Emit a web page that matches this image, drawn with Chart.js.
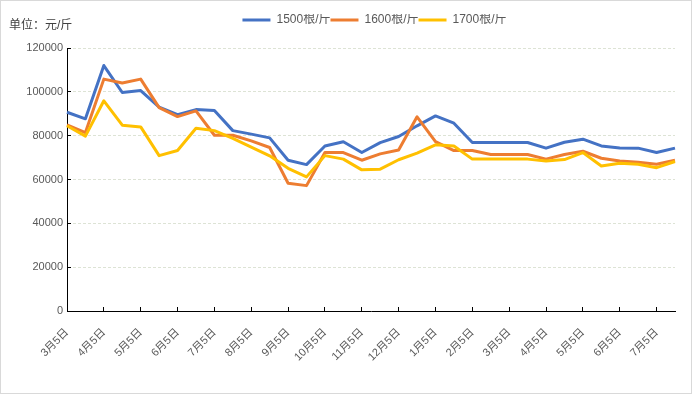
<!DOCTYPE html>
<html>
<head>
<meta charset="utf-8">
<script src="https://cdn.jsdelivr.net/npm/chart.js@4.4.0/dist/chart.umd.min.js"></script>
<style>
  html, body { margin: 0; padding: 0; background: #fff; }
  #wrap { width: 692px; height: 394px; }
</style>
</head>
<body>
<div id="wrap"><canvas id="priceChart" width="692" height="394"></canvas></div>
<script>
// categories: every half month, only the 5th gets a label
var dates = ['3月5日', '3月20日', '4月5日', '4月20日', '5月5日', '5月20日', '6月5日', '6月20日',
    '7月5日', '7月20日', '8月5日', '8月20日', '9月5日', '9月20日', '10月5日', '10月20日',
    '11月5日', '11月20日', '12月5日', '12月20日', '1月5日', '1月20日', '2月5日', '2月20日',
    '3月5日', '3月20日', '4月5日', '4月20日', '5月5日', '5月20日', '6月5日', '6月20日',
    '7月5日', '7月20日'];

var price1500 = [90700, 87700, 112000, 99700, 100600, 93000, 89600, 91900, 91500, 82300,
    80700, 79000, 68800, 66800, 75300, 77200, 72300, 76800, 79600, 84500,
    89000, 85700, 76900, 76900, 76900, 76900, 74300, 77000, 78400, 75300,
    74400, 74300, 72300, 74300];

var price1600 = [84900, 81400, 105800, 104000, 105800, 92800, 88700, 91300, 80200, 80200,
    77600, 74600, 58300, 57200, 72300, 72300, 68800, 71700, 73500, 88600,
    77300, 73200, 73200, 71400, 71400, 71400, 69300, 71400, 72900, 69700,
    68400, 67900, 67000, 68800];

var price1700 = [84500, 79800, 95900, 84800, 84000, 70900, 73200, 83400, 82300, 78800,
    74800, 70800, 65100, 61200, 70900, 69300, 64400, 64700, 69000, 72000,
    75800, 75300, 69300, 69300, 69300, 69300, 68400, 69100, 72300, 66200,
    67400, 67000, 65400, 68200];

var seriesNames = ['1500根/斤', '1600根/斤', '1700根/斤'];
var yTicks = { min: 0, max: 120000, step: 20000 };
var unitText = '单位：元/斤';

var fontFamily = '"Liberation Sans", "Noto Sans CJK SC", sans-serif';
var textGray = '#595959';

function lineSet(name, data, color, order) {
    return {
        label: name,
        data: data,
        borderColor: color,
        backgroundColor: color,
        borderWidth: 3,
        borderJoinStyle: 'round',
        borderCapStyle: 'butt',
        pointRadius: 0,
        tension: 0,
        fill: false,
        order: order
    };
}

// white page + light frame, unit text in the corner
var framePlugin = {
    id: 'frame',
    beforeDraw: function(chart) {
        var c = chart.ctx;
        c.save();
        c.fillStyle = '#fff';
        c.fillRect(0, 0, chart.width, chart.height);
        c.strokeStyle = '#d9d9d9';
        c.lineWidth = 1;
        c.strokeRect(0.5, 0.5, chart.width - 1, chart.height - 1);
        c.restore();
    },
    afterDraw: function(chart) {
        var c = chart.ctx;
        c.save();
        c.font = '12px ' + fontFamily;
        c.fillStyle = '#404040';
        c.textBaseline = 'middle';
        c.fillText(unitText, 9, 26);
        c.restore();
    }
};

// fix legend height so the plot starts where the original does,
// and nudge the legend to the right like in the original
var legendBox = {
    id: 'legendBox',
    beforeInit: function(chart) {
        var fit = chart.legend.fit;
        chart.legend.fit = function() {
            fit.call(this);
            this.height = 34;
        };
    },
    afterLayout: function(chart) {
        chart.legend.left = 74;
        chart.legend.right = 675;
    }
};

var ctx = document.getElementById('priceChart').getContext('2d');
var priceChart = new Chart(ctx, {
    type: 'line',
    data: {
        labels: dates,
        datasets: [
            lineSet(seriesNames[0], price1500, '#4472C4', 3),
            lineSet(seriesNames[1], price1600, '#ED7D31', 2),
            lineSet(seriesNames[2], price1700, '#FFC000', 1)
        ]
    },
    options: {
        responsive: false,
        animation: false,
        devicePixelRatio: 1,
        layout: { padding: { top: 14, right: 17, left: 0, bottom: 0 } },
        plugins: {
            legend: {
                position: 'top',
                align: 'center',
                labels: {
                    usePointStyle: true,
                    pointStyle: 'line',
                    pointStyleWidth: 28,
                    boxWidth: 28,
                    boxHeight: 12,
                    padding: 0,
                    color: textGray,
                    font: { family: fontFamily, size: 12 },
                    sort: function(a, b) { return a.datasetIndex - b.datasetIndex; }
                }
            },
            tooltip: { enabled: false }
        },
        scales: {
            x: {
                offset: false,
                grid: {
                    drawOnChartArea: false,
                    drawTicks: true,
                    tickLength: -4,
                    tickColor: function(c) {
                        return c.index % 2 === 0 ? '#000' : 'rgba(0,0,0,0)';
                    }
                },
                border: { color: '#000', width: 1 },
                ticks: {
                    autoSkip: false,
                    minRotation: 45,
                    maxRotation: 45,
                    padding: 19,
                    color: textGray,
                    font: { family: fontFamily, size: 11 },
                    callback: function(value, index) {
                        return index % 2 === 0 ? this.getLabelForValue(value) : '';
                    }
                },
                afterFit: function(scale) {
                    scale.height = 83;
                    // the label padding shouldn't shrink the plot sideways
                    scale.paddingLeft = 0;
                    scale.paddingRight = 0;
                }
            },
            y: {
                min: yTicks.min,
                max: yTicks.max,
                ticks: {
                    stepSize: yTicks.step,
                    padding: 8,
                    color: textGray,
                    font: { family: fontFamily, size: 11 },
                    callback: function(value) { return String(value); }
                },
                grid: {
                    color: function(c) {
                        return c.index === 0 ? 'rgba(0,0,0,0)' : '#dde3d5';
                    },
                    tickColor: '#000',
                    tickLength: -4,
                    lineWidth: 1
                },
                border: { color: '#000', width: 1, dash: [3, 2] },
                afterFit: function(scale) { scale.width = 67; }
            }
        }
    },
    plugins: [framePlugin, legendBox]
});
</script>
</body>
</html>
